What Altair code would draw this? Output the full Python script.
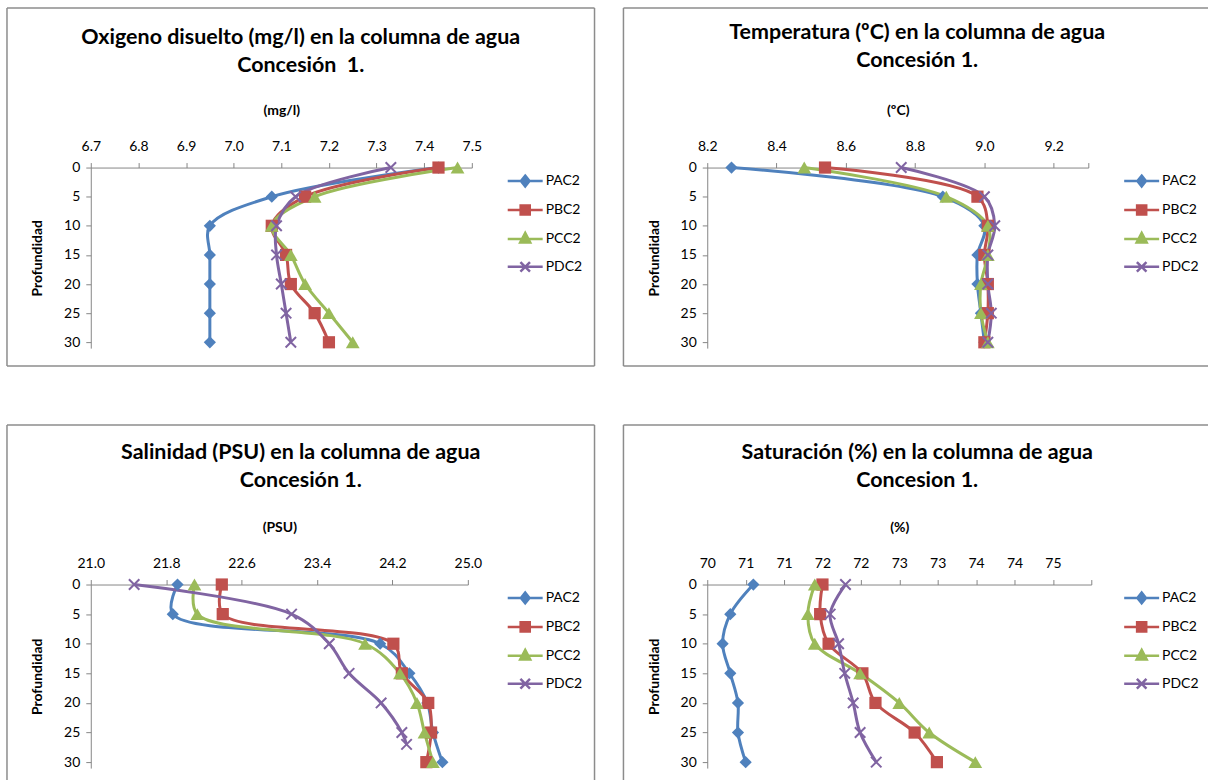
import altair as alt
import pandas as pd

SERIES = ["PAC2", "PBC2", "PCC2", "PDC2"]
COLORS = ["#4F81BD", "#C0504D", "#9BBB59", "#8064A2"]
DEPTHS = [0, 5, 10, 15, 20, 25, 30]
SAL_PDC2_DEPTHS = [0, 5, 10, 15, 20, 25, 27]

OXI_PAC2 = [7.43, 7.08, 6.95, 6.95, 6.95, 6.95, 6.95]
OXI_PBC2 = [7.43, 7.15, 7.08, 7.11, 7.12, 7.17, 7.20]
OXI_PCC2 = [7.47, 7.17, 7.08, 7.12, 7.15, 7.20, 7.25]
OXI_PDC2 = [7.33, 7.13, 7.09, 7.09, 7.10, 7.11, 7.12]

TEMP_PAC2 = [8.27, 8.88, 9.00, 8.98, 8.98, 8.99, 9.00]
TEMP_PBC2 = [8.54, 8.98, 9.01, 9.00, 9.01, 9.01, 9.00]
TEMP_PCC2 = [8.48, 8.89, 9.01, 9.01, 8.99, 8.99, 9.01]
TEMP_PDC2 = [8.76, 9.00, 9.03, 9.01, 9.01, 9.02, 9.01]

SAL_PAC2 = [21.92, 21.87, 24.07, 24.38, 24.57, 24.63, 24.73]
SAL_PBC2 = [22.39, 22.40, 24.21, 24.30, 24.58, 24.61, 24.56]
SAL_PCC2 = [22.10, 22.13, 23.91, 24.28, 24.46, 24.54, 24.63]
SAL_PDC2 = [21.46, 23.13, 23.53, 23.74, 24.08, 24.30, 24.35]

SAT_PAC2 = [70.60, 70.30, 70.20, 70.30, 70.40, 70.40, 70.50]
SAT_PBC2 = [71.50, 71.47, 71.58, 72.02, 72.19, 72.70, 72.99]
SAT_PCC2 = [71.40, 71.31, 71.40, 71.99, 72.50, 72.89, 73.49]
SAT_PDC2 = [71.80, 71.60, 71.71, 71.79, 71.90, 71.99, 72.20]

OXI_TICKS = [6.7, 6.8, 6.9, 7.0, 7.1, 7.2, 7.3, 7.4, 7.5]
TEMP_TICKS = [8.2, 8.4, 8.6, 8.8, 9.0, 9.2, 9.3]
SAL_TICKS = [21.0, 21.8, 22.6, 23.4, 24.2, 25.0]
SAT_TICKS = [70.0, 70.5, 71.0, 71.5, 72.0, 72.5, 73.0, 73.5, 74.0, 74.5, 75.0]
DEPTH_TICKS = [0, 5, 10, 15, 20, 25, 30]

FONT = "Lato"
FRAME_COLOR = "#8c8c8c"
CROSS = "M-1,-1L1,1M-1,1L1,-1"
LEG_PATHS = [
    "M-1.46,0H1.46M0,-0.45L0.36,0L0,0.45L-0.36,0Z",
    "M-1.46,0H1.46M-0.38,-0.38H0.38V0.38H-0.38Z",
    "M-1.46,0H1.46M0,-0.5L0.42,0.3L-0.42,0.3Z",
    "M-1.46,0H1.46M-0.4,-0.4L0.4,0.4M-0.4,0.4L0.4,-0.4",
]
MARKERS = [("PAC2", "diamond", True, 150), ("PBC2", "square", True, 150),
           ("PCC2", "triangle-up", True, 190), ("PDC2", CROSS, False, 110)]


def make_df(series_lists, depth_override=None):
    rows = []
    for s, vals in zip(SERIES, series_lists):
        deps = DEPTHS
        if depth_override and s in depth_override:
            deps = depth_override[s]
        for d, v in zip(deps, vals):
            rows.append({"series": s, "depth": d, "value": v})
    return pd.DataFrame(rows)


ONE = alt.Data(values=[{"k": 0}])
LEGEND_DF = pd.DataFrame({"series": SERIES})


def frame_layers(left, right, top, bottom, sides):
    layers = []
    for side in sides:
        c = alt.Chart(ONE).mark_rule(color=FRAME_COLOR, strokeWidth=1.5)
        if side == "top":
            c = c.encode(x=alt.value(left), x2=alt.value(right), y=alt.value(top))
        elif side == "bottom":
            c = c.encode(x=alt.value(left), x2=alt.value(right), y=alt.value(bottom))
        elif side == "left":
            c = c.encode(x=alt.value(left), y=alt.value(top), y2=alt.value(bottom))
        else:
            c = c.encode(x=alt.value(right), y=alt.value(top), y2=alt.value(bottom))
        layers.append(c)
    return layers


def panel(df, title_lines, title_y, xtitle, xdomain, xticks, label_expr, W, H, right, bottom, sides):
    x = alt.X("value:Q",
              scale=alt.Scale(domain=xdomain, nice=False, zero=False),
              axis=alt.Axis(orient="top", title=xtitle, values=xticks, labelExpr=label_expr,
                            titlePadding=22, labelPadding=9, tickSize=5, labelFlush=False))
    y = alt.Y("depth:Q",
              scale=alt.Scale(domain=[0, 31], reverse=True, nice=False, zero=False),
              axis=alt.Axis(title="Profundidad", values=DEPTH_TICKS, format="d",
                            titlePadding=19, labelPadding=6, tickSize=5, labelFlush=False))
    # colour of lines/markers: domain taken from the data (sorted), no legend
    color = alt.Color("series:N", scale=alt.Scale(range=COLORS), legend=None)
    base = alt.Chart(df)
    line = base.mark_line(interpolate="catmull-rom", strokeWidth=3).encode(
        x=x, y=y, color=color, order=alt.Order("depth:Q"))
    pts = []
    for s, shp, filled, size in MARKERS:
        pts.append(base.transform_filter(alt.datum.series == s).mark_point(
            shape=shp, filled=filled, size=size, opacity=1, strokeWidth=2).encode(
            x=x, y=y, color=color))
    # legend (line + marker symbols)
    leg = alt.Legend(title=None, orient="none", legendX=422, legendY=0, symbolSize=576,
                     labelFont=FONT, labelFontSize=14, labelColor="black", labelOffset=7,
                     rowPadding=5, symbolStrokeWidth=2.5, symbolOpacity=1)
    lscale = alt.Scale(domain=SERIES, range=COLORS)
    legend_layer = alt.Chart(LEGEND_DF).mark_point(
        filled=True, opacity=0, strokeWidth=2.5).encode(
        fill=alt.Fill("series:N", scale=lscale, legend=leg),
        stroke=alt.Stroke("series:N", scale=lscale, legend=leg),
        shape=alt.Shape("series:N", scale=alt.Scale(domain=SERIES, range=LEG_PATHS), legend=leg))
    title = alt.Chart(ONE).mark_text(font=FONT, fontSize=21.5, fontWeight="bold", align="center",
                                     baseline="middle", lineHeight=28, color="black").encode(
        x=alt.value(210.5), y=alt.value(title_y), text=alt.value(title_lines))
    frames = frame_layers(-84, right, -160, bottom, sides)
    return alt.layer(legend_layer, *frames, title, line, *pts).properties(width=W, height=H)


p1 = panel(make_df([OXI_PAC2, OXI_PBC2, OXI_PCC2, OXI_PDC2]),
           ["Oxigeno disuelto (mg/l) en la columna de agua", "Concesión \u00a01."], -130,
           "(mg/l)", [6.7, 7.5], OXI_TICKS, "format(datum.value, '.1f')",
           382, 181, 505, 199, ["top", "bottom", "left", "right"])
p2 = panel(make_df([TEMP_PAC2, TEMP_PBC2, TEMP_PCC2, TEMP_PDC2]),
           ["Temperatura (ºC) en la columna de agua", "Concesión 1."], -135,
           "(ºC)", [8.2, 9.3], TEMP_TICKS,
           "datum.value > 9.25 ? '' : format(datum.value, '.1f')",
           382, 181, 502, 199, ["top", "bottom", "left"])
p3 = panel(make_df([SAL_PAC2, SAL_PBC2, SAL_PCC2, SAL_PDC2], {"PDC2": SAL_PDC2_DEPTHS}),
           ["Salinidad (PSU) en la columna de agua", "Concesión 1."], -132,
           "(PSU)", [21.0, 25.0], SAL_TICKS, "format(datum.value, '.1f')",
           378, 184, 505, 198, ["top", "left", "right"])
p4 = panel(make_df([SAT_PAC2, SAT_PBC2, SAT_PCC2, SAT_PDC2]),
           ["Saturación (%) en la columna de agua", "Concesion 1."], -132,
           "(%)", [70.0, 75.0], SAT_TICKS,
           "datum.value > 74.75 ? '' : '' + round(datum.value)",
           385, 184, 502, 198, ["top", "left"])

chart = alt.concat(p1, p2, p3, p4, columns=2, spacing={"row": 57, "column": 27}).resolve_scale(
    x="independent", y="independent", color="independent", fill="independent",
    stroke="independent", shape="independent").resolve_legend(
    color="independent", fill="independent", stroke="independent", shape="independent").properties(
    padding={"left": 6, "top": 6, "right": 0, "bottom": 0}, background="white").configure_view(
    strokeWidth=0).configure_axis(
    labelFont=FONT, labelFontSize=14, labelColor="black", titleFont=FONT, titleFontSize=14,
    titleFontWeight="bold", titleColor="black", domainColor="#868686", tickColor="#868686",
    grid=False)

chart.save("out.html", embed_options={"renderer": "svg", "actions": False})
